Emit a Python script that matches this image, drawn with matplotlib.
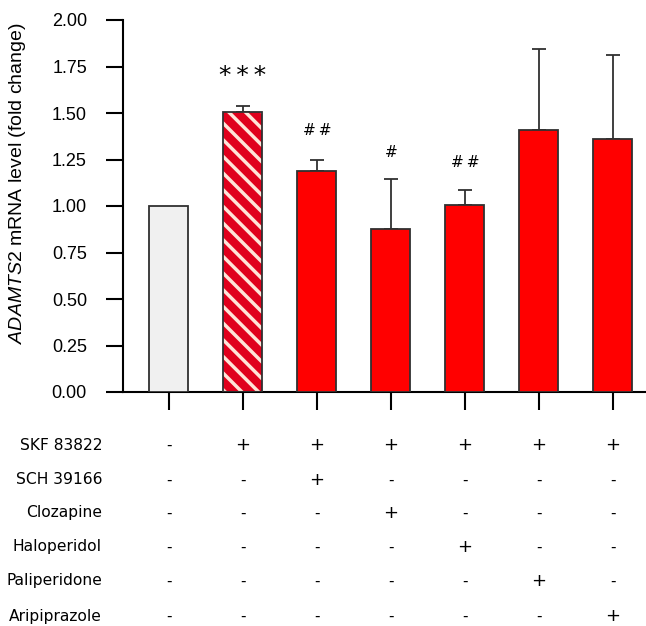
import matplotlib
matplotlib.use("Agg")
import matplotlib.pyplot as plt
import matplotlib.transforms as mtransforms

# data
values = [1.00, 1.505, 1.19, 0.875, 1.007, 1.41, 1.36]
errors = [0.0, 0.035, 0.055, 0.27, 0.081, 0.432, 0.453]
stars = ["", "*\u2009*\u2009*", "#\u2009#", "#", "#\u2009#", "", ""]
star_y = [0, 1.70, 1.405, 1.285, 1.235, 0, 0]
treatments = ["SKF 83822", "SCH 39166", "Clozapine", "Haloperidol",
              "Paliperidone", "Aripiprazole"]
signs = [
    ["-", "+", "+", "+", "+", "+", "+"],
    ["-", "-", "+", "-", "-", "-", "-"],
    ["-", "-", "-", "+", "-", "-", "-"],
    ["-", "-", "-", "-", "+", "-", "-"],
    ["-", "-", "-", "-", "-", "+", "-"],
    ["-", "-", "-", "-", "-", "-", "+"],
]

plt.rcParams['font.family'] = ['Liberation Sans', 'DejaVu Sans']
plt.rcParams['mathtext.fontset'] = 'custom'
plt.rcParams['mathtext.it'] = 'Liberation Sans:italic'
plt.rcParams['mathtext.rm'] = 'Liberation Sans'
plt.rcParams['hatch.linewidth'] = 2.5

fig = plt.figure(figsize=(6.46, 6.26), dpi=100)
ax = fig.add_axes([123/646, 234/626, 1 - 123/646, 372/626])

x = list(range(len(values)))
w = 0.53

# hatched bar drawn underneath, outline drawn on top
ax.bar(x[1], values[1], w, color="#e0001c", edgecolor="#ffe4d8", hatch="\\\\",
       linewidth=0, zorder=2)
face = ["#f0f0f0", "none"] + ["#ff0000"] * 5
ax.bar(x, values, w, color=face, edgecolor="#303030", linewidth=1.3, zorder=3)
ax.errorbar(x[1:], values[1:], yerr=[[0] * 6, errors[1:]], fmt="none",
            ecolor="#303030", elinewidth=1.3, capsize=4.7, capthick=1.3, zorder=1)

for i, s in enumerate(stars):
    if s:
        fs = 18 if s.startswith("*") else 11
        ax.text(i, star_y[i], s, ha="center", va="center", fontsize=fs,
                family="DejaVu Sans")

ax.set_xlim(-0.62, 6.45)
ax.set_ylim(0, 2.0)
ax.set_yticks([0, 0.25, 0.5, 0.75, 1.0, 1.25, 1.5, 1.75, 2.0])
ax.set_yticklabels(["%.2f" % v for v in ax.get_yticks()])
ax.set_xticks(x)
ax.set_xticklabels([])
ax.tick_params(axis="y", length=12, width=1.5, pad=14, labelsize=13)
ax.tick_params(axis="x", length=13, width=1.5)
for side in ["top", "right"]:
    ax.spines[side].set_visible(False)
for side in ["left", "bottom"]:
    ax.spines[side].set_linewidth(1.5)

fig.text(18/646, 1 - 183/626, r"$\it{ADAMTS2}$ mRNA level (fold change)",
         rotation=90, ha="center", va="center", fontsize=14)

# treatment table
trans = mtransforms.blended_transform_factory(ax.transData, fig.transFigure)
row_y = [445, 480, 513, 547, 581, 616]
for r, name in enumerate(treatments):
    yy = 1 - row_y[r] / 626
    fig.text(102/646, yy, name, ha="right", va="center", fontsize=11.2,
             family="DejaVu Sans")
    for i, s in enumerate(signs[r]):
        ax.text(i, yy, s, transform=trans, ha="center", va="center",
                fontsize=13 if s == "+" else 11, family="DejaVu Sans",
                clip_on=False)

fig.savefig("out.png", dpi=100)
